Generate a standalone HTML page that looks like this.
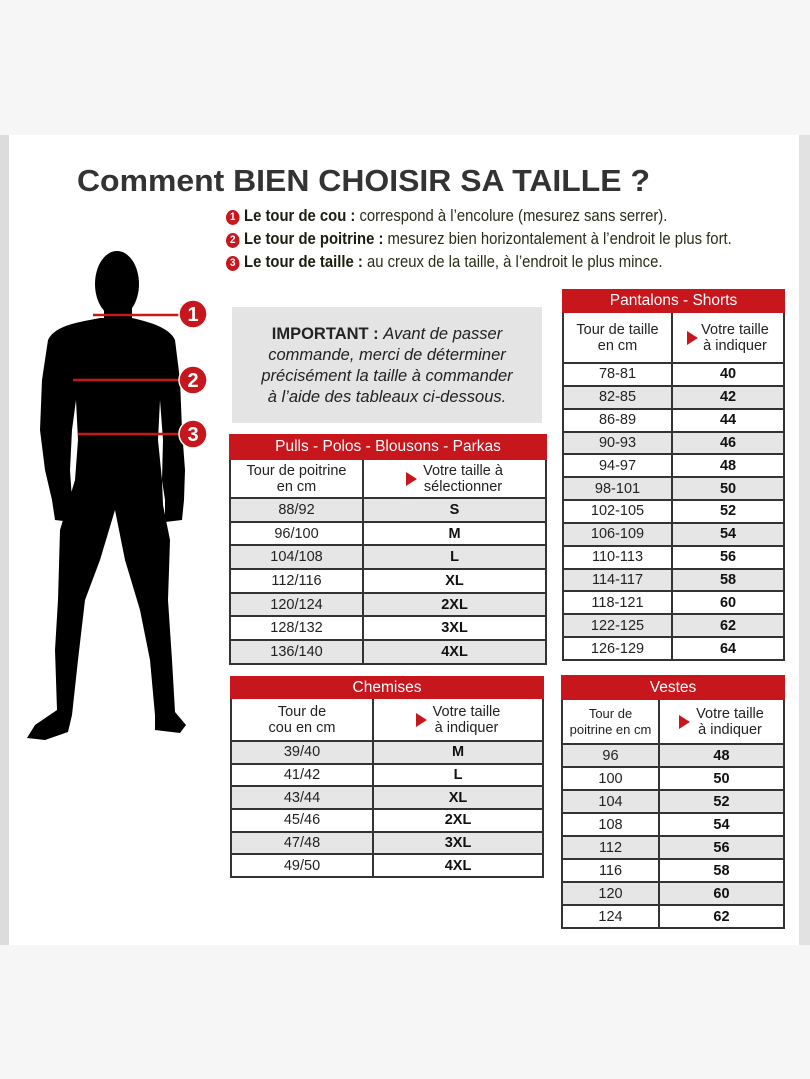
<!DOCTYPE html>
<html><head><meta charset="utf-8">
<style>
*{margin:0;padding:0;box-sizing:border-box}
body{width:810px;height:1079px;background:#f6f6f6;position:relative;overflow:hidden;font-family:"Liberation Sans",sans-serif}
#white{position:absolute;left:0;top:135px;width:810px;height:810px;background:#fff}
#ls{position:absolute;left:0;top:135px;width:9px;height:810px;background:#dcdcdc}
#rs{position:absolute;left:799px;top:135px;width:11px;height:810px;background:#e2e2e2}
h1{position:absolute;left:77px;top:163px;font-size:31px;font-weight:bold;color:#333;white-space:nowrap;transform:scaleX(1.03);transform-origin:left}
.bl{position:absolute;left:226px;font-size:16.5px;color:#2a2c18;white-space:nowrap;transform:scaleX(0.9);transform-origin:left}
.bl b{color:#1c1d10}
.num{display:inline-block;width:15px;height:15px;border-radius:50%;background:#c8161d;color:#fff;font-size:11px;font-weight:bold;text-align:center;line-height:15px;vertical-align:1px;margin-right:5px}
#imp{position:absolute;left:232px;top:307px;width:310px;height:116px;background:#e4e4e4;text-align:center;font-size:16.5px;line-height:21px;color:#222;padding-top:17px}
table{position:absolute;border-collapse:collapse;font-size:14.5px;color:#222;table-layout:fixed}
td{border:2px solid #333;text-align:center;padding:0;line-height:16px}
tr.h td{background:#c8161d;color:#fff;border-color:#c8161d;font-size:15.5px}
tr.g td{background:#e6e6e6}
td.b{font-weight:bold;color:#111}
.tri{display:inline-block;width:0;height:0;border-left:11px solid #c8161d;border-top:7px solid transparent;border-bottom:7px solid transparent;vertical-align:middle;margin-right:6px}
</style></head><body>
<div id="white"></div><div id="ls"></div><div id="rs"></div>
<h1>Comment BIEN CHOISIR SA TAILLE ?</h1>
<div class="bl" style="top:207px"><span class="num">1</span><b>Le tour de cou :</b> correspond à l’encolure (mesurez sans serrer).</div>
<div class="bl" style="top:230px"><span class="num">2</span><b>Le tour de poitrine :</b> mesurez bien horizontalement à l’endroit le plus fort.</div>
<div class="bl" style="top:253px"><span class="num">3</span><b>Le tour de taille :</b> au creux de la taille, à l’endroit le plus mince.</div>

<svg style="position:absolute;left:0;top:0" width="230" height="760">
<ellipse cx="117" cy="284" rx="22" ry="33" fill="#000"/>
<rect x="104" y="300" width="28" height="24" fill="#000"/>
<path fill="#000" d="M100 318 C80 322 55 325 48 340 L42 380 L40 430 L45 470 L52 500 L55 520 L72 522 L72 500 L70 470 L72 430 L76 400 L78 440 L75 480 L60 530 L58 600 L55 650 L57 710 L35 725 L27 738 L45 740 L68 732 L72 715 L78 660 L85 600 L100 560 L115 510 L125 560 L140 610 L150 660 L155 715 L155 730 L180 733 L186 725 L175 712 L172 660 L168 600 L170 540 L163 505 L162 480 L158 440 L160 400 L163 440 L162 480 L165 500 L165 522 L182 520 L184 500 L185 470 L182 430 L180 380 L175 340 C170 328 150 322 132 318 Z"/>
<g stroke="#c8161d" stroke-width="2.5"><line x1="93" y1="315" x2="182" y2="315"/><line x1="73" y1="380" x2="182" y2="380"/><line x1="78" y1="434" x2="182" y2="434"/></g>
<g fill="#c8161d" stroke="#fff" stroke-width="1.5"><circle cx="193" cy="314" r="14"/><circle cx="193" cy="380" r="14"/><circle cx="193" cy="434" r="14"/></g>
<g fill="#fff" font-family="Liberation Sans" font-weight="bold" font-size="20" text-anchor="middle"><text x="193" y="321">1</text><text x="193" y="387">2</text><text x="193" y="441">3</text></g>
</svg>

<div id="imp"><b>IMPORTANT :</b> <i>Avant de passer<br>commande, merci de déterminer<br>précisément la taille à commander<br>à l’aide des tableaux ci-dessous.</i></div>

<table style="left:229px;top:434px;width:316px">
<col style="width:133px"><col style="width:183px">
<tr class="h" style="height:24px"><td colspan="2">Pulls - Polos - Blousons - Parkas</td></tr>
<tr style="height:39px"><td>Tour de poitrine<br>en cm</td><td><span class="tri"></span><span style="display:inline-block;vertical-align:middle">Votre taille à<br>sélectionner</span></td></tr>
<tr class="g" style="height:23.7px"><td>88/92</td><td class="b">S</td></tr>
<tr style="height:23.7px"><td>96/100</td><td class="b">M</td></tr>
<tr class="g" style="height:23.7px"><td>104/108</td><td class="b">L</td></tr>
<tr style="height:23.7px"><td>112/116</td><td class="b">XL</td></tr>
<tr class="g" style="height:23.7px"><td>120/124</td><td class="b">2XL</td></tr>
<tr style="height:23.7px"><td>128/132</td><td class="b">3XL</td></tr>
<tr class="g" style="height:23.7px"><td>136/140</td><td class="b">4XL</td></tr>
</table>

<table style="left:562px;top:289px;width:221px">
<col style="width:109px"><col style="width:112px">
<tr class="h" style="height:22px"><td colspan="2">Pantalons - Shorts</td></tr>
<tr style="height:51px"><td>Tour de taille<br>en cm</td><td><span class="tri" style="margin-right:3px"></span><span style="display:inline-block;vertical-align:middle">Votre taille<br>à indiquer</span></td></tr>
<tr style="height:22.85px"><td>78-81</td><td class="b">40</td></tr>
<tr class="g" style="height:22.85px"><td>82-85</td><td class="b">42</td></tr>
<tr style="height:22.85px"><td>86-89</td><td class="b">44</td></tr>
<tr class="g" style="height:22.85px"><td>90-93</td><td class="b">46</td></tr>
<tr style="height:22.85px"><td>94-97</td><td class="b">48</td></tr>
<tr class="g" style="height:22.85px"><td>98-101</td><td class="b">50</td></tr>
<tr style="height:22.85px"><td>102-105</td><td class="b">52</td></tr>
<tr class="g" style="height:22.85px"><td>106-109</td><td class="b">54</td></tr>
<tr style="height:22.85px"><td>110-113</td><td class="b">56</td></tr>
<tr class="g" style="height:22.85px"><td>114-117</td><td class="b">58</td></tr>
<tr style="height:22.85px"><td>118-121</td><td class="b">60</td></tr>
<tr class="g" style="height:22.85px"><td>122-125</td><td class="b">62</td></tr>
<tr style="height:22.85px"><td>126-129</td><td class="b">64</td></tr>
</table>

<table style="left:230px;top:676px;width:312px">
<col style="width:142px"><col style="width:170px">
<tr class="h" style="height:21px"><td colspan="2">Chemises</td></tr>
<tr style="height:43px"><td>Tour de<br>cou en cm</td><td><span class="tri"></span><span style="display:inline-block;vertical-align:middle">Votre taille<br>à indiquer</span></td></tr>
<tr class="g" style="height:22.7px"><td>39/40</td><td class="b">M</td></tr>
<tr style="height:22.7px"><td>41/42</td><td class="b">L</td></tr>
<tr class="g" style="height:22.7px"><td>43/44</td><td class="b">XL</td></tr>
<tr style="height:22.7px"><td>45/46</td><td class="b">2XL</td></tr>
<tr class="g" style="height:22.7px"><td>47/48</td><td class="b">3XL</td></tr>
<tr style="height:22.7px"><td>49/50</td><td class="b">4XL</td></tr>
</table>

<table style="left:561px;top:675px;width:222px">
<col style="width:97px"><col style="width:125px">
<tr class="h" style="height:23px"><td colspan="2">Vestes</td></tr>
<tr style="height:45px"><td style="font-size:13px">Tour de<br>poitrine en cm</td><td><span class="tri"></span><span style="display:inline-block;vertical-align:middle">Votre taille<br>à indiquer</span></td></tr>
<tr class="g" style="height:23px"><td>96</td><td class="b">48</td></tr>
<tr style="height:23px"><td>100</td><td class="b">50</td></tr>
<tr class="g" style="height:23px"><td>104</td><td class="b">52</td></tr>
<tr style="height:23px"><td>108</td><td class="b">54</td></tr>
<tr class="g" style="height:23px"><td>112</td><td class="b">56</td></tr>
<tr style="height:23px"><td>116</td><td class="b">58</td></tr>
<tr class="g" style="height:23px"><td>120</td><td class="b">60</td></tr>
<tr style="height:23px"><td>124</td><td class="b">62</td></tr>
</table>
</body></html>
